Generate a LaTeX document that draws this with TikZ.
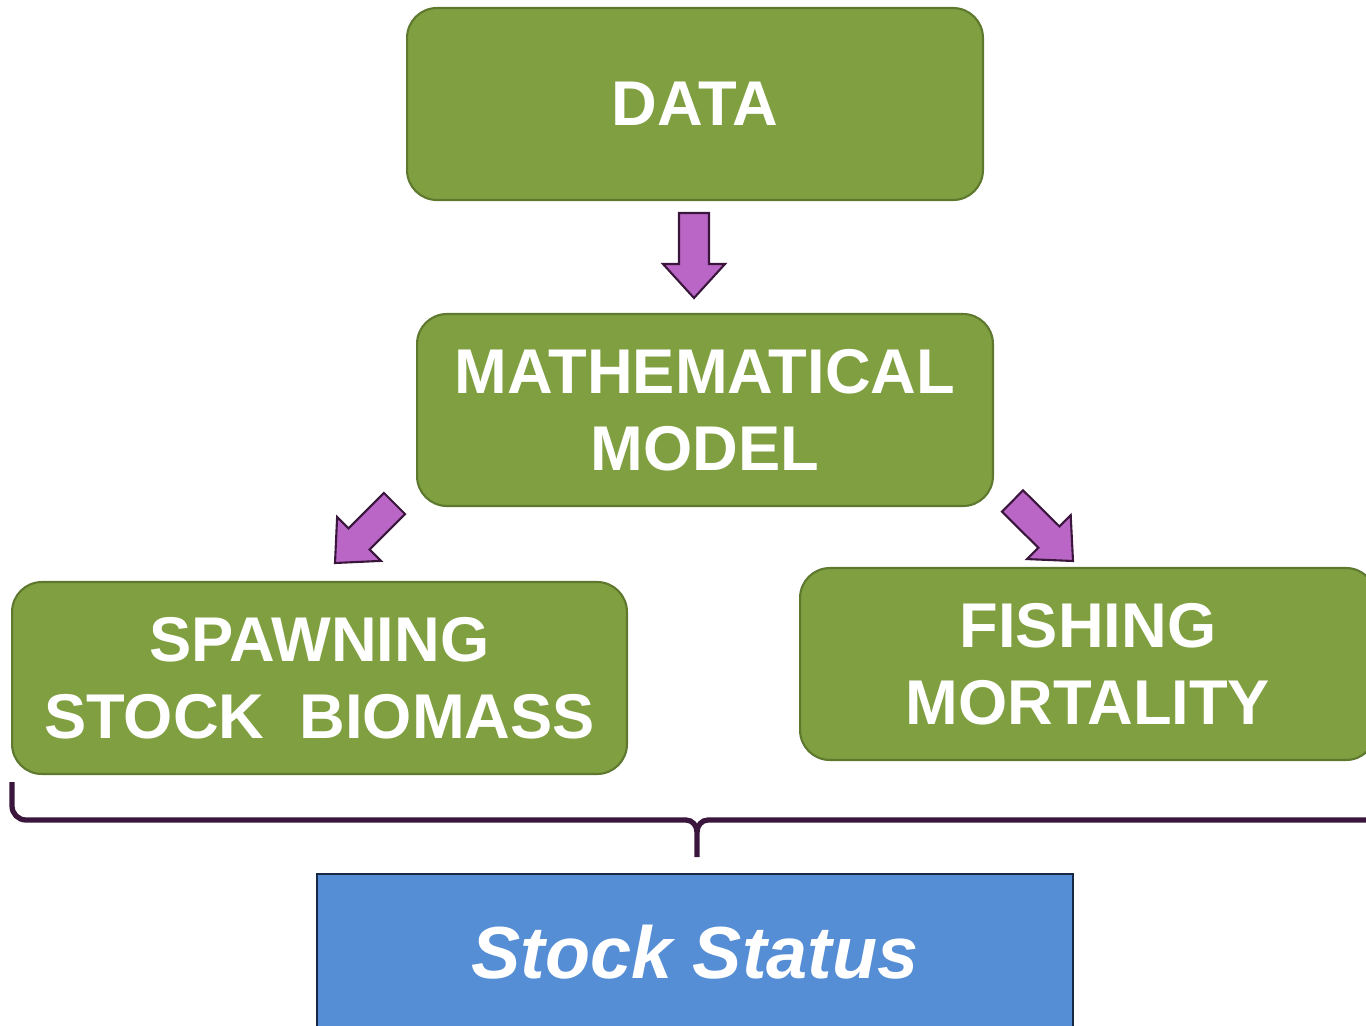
\documentclass[tikz,border=0pt]{standalone}
\usepackage{fontspec}
\setmainfont{Liberation Sans}
\usepackage{xcolor}
\usepackage{tikz}
\usetikzlibrary{calc}

\definecolor{boxgreen}{RGB}{128,159,64}
\definecolor{greenedge}{RGB}{94,120,46}
\definecolor{statusblue}{RGB}{85,142,213}
\definecolor{statusedge}{RGB}{22,40,68}
\definecolor{arrowpurple}{RGB}{185,102,198}
\definecolor{arrowedge}{RGB}{58,22,60}

\newcommand{\fatarrow}[2]{%
	\coordinate (fabase) at ($(#2)!0.68cm!(#1)$);
	\filldraw[purplearrow] ($(#1)!0.3cm!90:(#2)$) -- ($(fabase)!0.3cm!90:(#2)$) -- ($(fabase)!0.62cm!90:(#2)$) -- (#2)
		-- ($(fabase)!0.62cm!-90:(#2)$) -- ($(fabase)!0.3cm!-90:(#2)$) -- ($(#1)!0.3cm!-90:(#2)$) -- cycle;
}

\begin{document}
\begin{tikzpicture}[x=0.02cm,y=-0.02cm,
	greenbox/.style={draw=greenedge, fill=boxgreen, line width=1.2pt, rounded corners=17pt,
		minimum width=11.52cm, minimum height=3.84cm, inner sep=0pt, align=center,
		text=white, font=\bfseries\fontsize{36}{44}\selectfont},
	statusbox/.style={draw=statusedge, fill=statusblue, line width=1.6pt,
		minimum width=15.12cm, minimum height=3.12cm, inner sep=0pt,
		text=white, font=\bfseries\itshape\fontsize{42}{50}\selectfont},
	purplearrow/.style={fill=arrowpurple, draw=arrowedge, line width=1.2pt, line join=miter},
	bracket/.style={draw=arrowedge, line width=3pt}]
	\useasboundingbox (0,0) rectangle (1366,1025);
	
	\node[greenbox] (data) at (695,104) {DATA};
	\node[greenbox] (model) at (705,410) {MATHEMATICAL\\MODEL};
	\node[greenbox, minimum width=12.3cm] (ssb) at (319.5,678) {SPAWNING\\STOCK\ \ BIOMASS};
	\node[greenbox] (fmort) at (1088,664) {FISHING\\MORTALITY};
	\node[statusbox] (status) at (695,952) {Stock Status};
	
	\coordinate (a1s) at (694,213);
	\coordinate (a1e) at (694,298);
	\coordinate (a2s) at (394.5,503.5);
	\coordinate (a2e) at (335,563);
	\coordinate (a3s) at (1012.5,501);
	\coordinate (a3e) at (1073,561);
	\fatarrow{a1s}{a1e}
	\fatarrow{a2s}{a2e}
	\fatarrow{a3s}{a3e}
	
	\draw[bracket] (12,782) -- (12,806) to[out=-90,in=180] (26,820) -- (686,820) to[out=0,in=90] (697,832) -- (697,857);
	\draw[bracket] (697,832) to[out=90,in=180] (708,820) -- (1370,820);
\end{tikzpicture}
\end{document}
